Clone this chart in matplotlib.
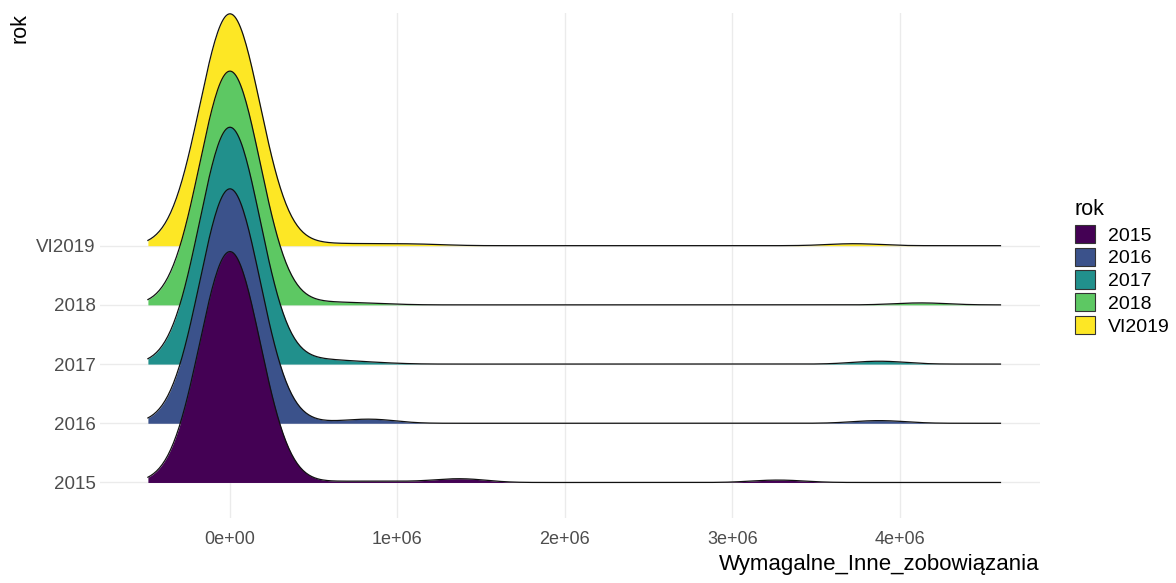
"""
Ridgeline density of Wymagalne_Inne_zobowiazania per year (ggridges look)
"""

import numpy as np
import matplotlib
matplotlib.use("Agg")
import matplotlib.pyplot as plt
from matplotlib.patches import Patch
from matplotlib.ticker import FuncFormatter

plt.rcParams['font.family'] = ['Liberation Sans', 'DejaVu Sans']

years = ["2015", "2016", "2017", "2018", "VI2019"]
colors = ["#440154", "#3B528B", "#21908C", "#5DC863", "#FDE725"]

core_vals = [-0.3, -0.2, -0.1, 0.0, 0.1, 0.2, 0.3]
core_wts = [0.056, 0.278, 0.726, 1.0, 0.726, 0.278, 0.056]
core_share = [0.975, 0.99, 1.0, 0.987, 0.979]

tail_vals_2015 = [0.6, 0.75, 0.9, 1.05, 1.3, 1.45, 3.2, 3.35]
tail_wts_2015 = [0.006, 0.006, 0.006, 0.006, 0.022, 0.02, 0.014, 0.013]
tail_vals_2016 = [0.5, 0.75, 0.9, 3.8, 3.95]
tail_wts_2016 = [0.009, 0.022, 0.024, 0.015, 0.015]
tail_vals_2017 = [0.5, 0.65, 0.8, 0.95, 3.8, 3.95]
tail_wts_2017 = [0.027, 0.018, 0.011, 0.0045, 0.016, 0.016]
tail_vals_2018 = [0.5, 0.65, 0.8, 0.95, 4.05, 4.2]
tail_wts_2018 = [0.016, 0.012, 0.01, 0.004, 0.011, 0.011]
tail_vals_2019 = [0.5, 0.65, 0.8, 0.95, 1.1, 1.25, 3.65, 3.8]
tail_wts_2019 = [0.014, 0.009, 0.009, 0.009, 0.009, 0.005, 0.011, 0.011]

data_min, data_max = -0.49, 4.6   # range of observations (millions)
bandwidth = 0.13
scale = 4.0

tails = [
    (tail_vals_2015, tail_wts_2015),
    (tail_vals_2016, tail_wts_2016),
    (tail_vals_2017, tail_wts_2017),
    (tail_vals_2018, tail_wts_2018),
    (tail_vals_2019, tail_wts_2019),
]


def kde(grid, vals, wts, h):
    vals = np.asarray(vals)[:, None]
    wts = np.asarray(wts)[:, None]
    return (wts * np.exp(-(grid[None, :] - vals) ** 2 / (2 * h ** 2))).sum(axis=0)


grid = np.linspace(data_min, data_max, 600)
dens = []
for i, (tv, tw) in enumerate(tails):
    vals = core_vals + tv
    wts = [w * core_share[i] for w in core_wts] + tw
    dens.append(kde(grid, vals, wts, bandwidth))
top = max(d.max() for d in dens)

fig = plt.figure(figsize=(11.76, 5.83), dpi=100)
ax = fig.add_axes([100 / 1176, 1 - 518 / 583, 940 / 1176, 505 / 583])

xs = grid * 1e6
n = len(years)
for i in reversed(range(n)):
    base = i + 1
    h = dens[i] / top * scale
    z = 3 + 2 * (n - i)
    ax.fill_between(xs, base, base + h, color=colors[i], lw=0, zorder=z)
    ax.plot(xs, base + h, color="#111111", lw=0.9, zorder=z + 0.5)

ax.set_xlim(-0.776e6, 4.836e6)
ax.set_ylim(0.4, 8.93)
ax.set_xticks([0, 1e6, 2e6, 3e6, 4e6])
ax.xaxis.set_major_formatter(FuncFormatter(lambda v, p: format(v, ".0e")))
ax.set_yticks(range(1, n + 1))
ax.set_yticklabels(years)
ax.tick_params(axis='y', length=0, labelsize=13.5, labelcolor="#4D4D4D", pad=3)
ax.tick_params(axis='x', length=0, labelsize=13, labelcolor="#4D4D4D", pad=9)
ax.grid(True, color="#EBEBEB", lw=1)
ax.set_axisbelow(True)
for s in ax.spines.values():
    s.set_visible(False)

ax.set_xlabel("Wymagalne_Inne_zobowiązania", loc="right", fontsize=16, labelpad=5)
ax.set_ylabel("rok", loc="top", fontsize=15.5, labelpad=4)

# legend: title as separate text so the gap matches ggplot
fig.text(1075 / 1176, 1 - 199 / 583, "rok", fontsize=15.5, ha="left", va="top")
handles = [Patch(facecolor=c, edgecolor="#333333", lw=0.8) for c in colors]
fig.legend(handles, years, loc="upper left",
           bbox_to_anchor=(1075 / 1176, 1 - 225 / 583), frameon=False,
           fontsize=14, handlelength=1.05, handleheight=1.07, labelspacing=0.15,
           handletextpad=0.65, borderpad=0, borderaxespad=0)

fig.savefig("out.png", dpi=100)
